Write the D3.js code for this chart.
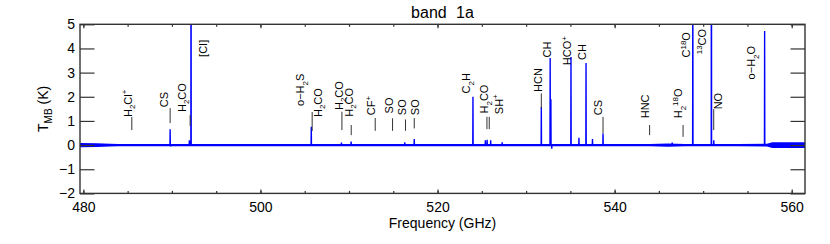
<!DOCTYPE html>
<html>
<head>
<meta charset="utf-8">
<script src="https://cdn.jsdelivr.net/npm/d3@7"></script>
<style>
  body { margin: 0; background: #fff; }
  svg { display: block; font-family: "Liberation Sans", Arial, sans-serif; }
</style>
</head>
<body>
<div id="chart"></div>
<script>
// band 1a spectrum, T_MB vs frequency

// spectral features: frequency (GHz) and peak T_MB (K)
const peakFreq = [489.80, 489.86, 491.97, 492.16, 505.74, 509.15, 510.24, 516.30, 517.37,
  524.00, 525.40, 525.60, 526.00, 527.30, 531.72, 532.72, 532.80, 532.90, 535.07,
  535.97, 536.77, 537.50, 538.69, 546.50, 548.83, 550.93, 551.20, 556.94]
const peakTmb = [0.66, -0.05, 0.2, 12, 0.76, 0.1, 0.15, 0.12, 0.25,
  2.0, 0.2, 0.22, 0.2, 0.12, 1.58, 3.6, 1.9, -0.15, 3.65,
  0.3, 3.4, 0.25, 0.48, 0.1, 8, 15, 0.2, 4.72]

// baseline noise level (K) along the band
const noiseFreq = [479.6, 481.5, 483, 484, 544, 546, 548, 554, 557.2, 557.8, 561.5]
const noiseAmp = [0.09, 0.08, 0.06, 0.05, 0.05, 0.07, 0.05, 0.05, 0.06, 0.12, 0.12]

// line identifications
const labelText = ["H_{2}Cl^{+}", "CS", "H_{2}CO", "[CI]", "o−H_{2}S", "H_{2}CO", "H_{2}CO", "H_{2}CO",
  "CF^{+}", "SO", "SO", "SO", "C_{2}H", "H_{2}CO", "SH^{+}", "HCN", "CH", "HCO^{+}", "CH", "CS",
  "HNC", "H_{2}^{18}O", "C^{18}O", "^{13}CO", "NO", "o−H_{2}O"]
const labelFreq = [485.02, 489.12, 491.15, 493.47, 504.49, 506.52, 508.89, 510.02,
  512.51, 514.54, 516.01, 517.48, 523.24, 525.28, 526.92, 531.32, 532.40, 534.66, 536.35, 538.16,
  543.47, 547.20, 548.10, 549.91, 551.66, 555.45]
const labelTmb = [1.16, 1.57, 1.37, 3.65, 1.62, 1.16, 1.45, 1.17,
  1.24, 1.31, 1.24, 1.24, 2.14, 1.31, 1.28, 2.20, 3.63, 3.31, 3.52, 1.24,
  1.11, 1.11, 3.63, 3.76, 1.48, 2.72]

// marker ticks below the labels: frequency, bottom and top (K)
const markFreq = [485.47, 489.80, 492.06, 505.84, 509.20, 510.25, 512.96, 514.92, 516.38, 517.37,
  525.58, 525.84, 531.72, 538.69, 543.95, 547.73, 551.19]
const markLo = [0.62, 0.91, 0.79, 0.58, 0.62, 0.41, 0.59, 0.59, 0.59, 0.69,
  0.66, 0.66, 1.53, 0.48, 0.41, 0.34, 0.62]
const markHi = [1.16, 1.53, 1.24, 1.37, 1.38, 0.83, 1.12, 1.11, 1.06, 1.12,
  1.17, 1.17, 2.14, 1.17, 0.83, 0.83, 1.49]

const width = 830
const height = 244
const marginTop = 24.3
const marginRight = 25
const marginBottom = 50.6
const marginLeft = 80

const xScale = d3.scaleLinear([479.62, 561.5], [marginLeft, width - marginRight])
const yScale = d3.scaleLinear([-2, 5], [height - marginBottom, marginTop])

const axisColor = "#333"

const svg = d3.select("#chart")
  .append("svg")
  .attr("width", width)
  .attr("height", height)
  .attr("viewBox", [0, 0, width, height])

svg.append("clipPath")
    .attr("id", "plotclip")
  .append("rect")
    .attr("x", marginLeft)
    .attr("y", marginTop)
    .attr("width", width - marginLeft - marginRight)
    .attr("height", height - marginTop - marginBottom)

// spectrum
const plot = svg.append("g").attr("clip-path", "url(#plotclip)")

const noise = noiseFreq.map((f, i) => ({f: f, a: noiseAmp[i]}))
plot.append("path")
    .datum(noise)
    .attr("fill", "#0000ff")
    .attr("d", d3.area()
      .x(d => xScale(d.f))
      .y0(d => yScale(-d.a))
      .y1(d => yScale(d.a)))

// baseline with narrow peaks inserted
const spec = [{f: 479.6, t: 0}]
peakFreq.forEach((f, i) => {
  spec.push({f: f - 0.02, t: 0}, {f: f, t: peakTmb[i]}, {f: f + 0.02, t: 0})
})
spec.push({f: 561.5, t: 0})
spec.sort((a, b) => a.f - b.f)

plot.append("path")
    .datum(spec)
    .attr("fill", "none")
    .attr("stroke", "#0000ff")
    .attr("stroke-width", 1.4)
    .attr("d", d3.line().x(d => xScale(d.f)).y(d => yScale(d.t)))

// marker ticks
svg.append("g")
    .attr("stroke", "#333")
    .attr("stroke-width", 1)
  .selectAll("line")
  .data(markFreq)
  .join("line")
    .attr("x1", d => xScale(d))
    .attr("x2", d => xScale(d))
    .attr("y1", (d, i) => yScale(markLo[i]))
    .attr("y2", (d, i) => yScale(markHi[i]))

// rich text: _{..} subscript, ^{..} superscript
function richText(sel, str, size) {
  const parts = []
  const re = /([_^])\{([^}]*)\}|([^_^]+)/g
  let m
  while ((m = re.exec(str)) !== null) {
    if (m[3]) parts.push({t: m[3], s: 0})
    else parts.push({t: m[2], s: m[1] === "_" ? 1 : -1})
  }
  let shift = 0
  parts.forEach(p => {
    const target = p.s * size * (p.s > 0 ? 0.3 : 0.4)
    sel.append("tspan")
      .attr("dy", target - shift)
      .attr("font-size", p.s ? size * 0.72 : size)
      .text(p.t)
    shift = target
  })
}

const labelSize = 11
svg.append("g")
  .selectAll("g")
  .data(labelText)
  .join("g")
    .attr("transform", (d, i) => `translate(${xScale(labelFreq[i]) + 4},${yScale(labelTmb[i])}) rotate(-90)`)
  .append("text")
    .attr("font-size", labelSize)
    .attr("fill", "#000")
    .each(function(d) { richText(d3.select(this), d, labelSize) })

// axes
const tickFont = "14px"
const xMajor = [480, 500, 520, 540, 560]
const xMinor = d3.range(480, 562, 5)

svg.append("g")
    .attr("transform", `translate(0,${height - marginBottom})`)
    .call(d3.axisBottom(xScale).tickValues(xMinor).tickSize(-2.5).tickFormat(""))
    .call(g => g.select(".domain").remove())
svg.append("g")
    .attr("transform", `translate(0,${height - marginBottom})`)
    .call(d3.axisBottom(xScale).tickValues(xMajor).tickSize(-4).tickPadding(9).tickFormat(d3.format("d")))
    .call(g => g.select(".domain").remove())
    .call(g => g.selectAll("text").attr("font-size", tickFont).attr("fill", "#000").attr("font-family", null))
svg.append("g")
    .attr("transform", `translate(0,${marginTop})`)
    .call(d3.axisTop(xScale).tickValues(xMinor).tickSize(-2.5).tickFormat(""))
    .call(g => g.select(".domain").remove())
svg.append("g")
    .attr("transform", `translate(0,${marginTop})`)
    .call(d3.axisTop(xScale).tickValues(xMajor).tickSize(-4).tickFormat(""))
    .call(g => g.select(".domain").remove())

svg.append("g")
    .attr("transform", `translate(${marginLeft},0)`)
    .call(d3.axisLeft(yScale).ticks(7).tickSize(-14.5).tickPadding(5))
    .call(g => g.select(".domain").remove())
    .call(g => g.selectAll("text").attr("font-size", tickFont).attr("fill", "#000").attr("font-family", null))
svg.append("g")
    .attr("transform", `translate(${width - marginRight},0)`)
    .call(d3.axisRight(yScale).ticks(7).tickSize(-14.5).tickFormat(""))
    .call(g => g.select(".domain").remove())

svg.selectAll(".tick line").attr("stroke", axisColor).attr("stroke-width", 1.2)

// frame
svg.append("rect")
    .attr("x", marginLeft)
    .attr("y", marginTop)
    .attr("width", width - marginLeft - marginRight)
    .attr("height", height - marginTop - marginBottom)
    .attr("fill", "none")
    .attr("stroke", axisColor)
    .attr("stroke-width", 1.4)

// titles
svg.append("text")
    .attr("x", (marginLeft + width - marginRight) / 2)
    .attr("y", 18.3)
    .attr("text-anchor", "middle")
    .attr("font-size", "16px")
    .attr("word-spacing", "5px")
    .text("band 1a")

svg.append("text")
    .attr("x", (marginLeft + width - marginRight) / 2)
    .attr("y", 228.3)
    .attr("text-anchor", "middle")
    .attr("font-size", "14px")
    .text("Frequency (GHz)")

const yLab = svg.append("text")
    .attr("transform", `translate(48,${(marginTop + height - marginBottom) / 2}) rotate(-90)`)
    .attr("text-anchor", "middle")
    .attr("font-size", 14)
richText(yLab, "T_{MB} (K)", 14)
</script>
</body>
</html>
